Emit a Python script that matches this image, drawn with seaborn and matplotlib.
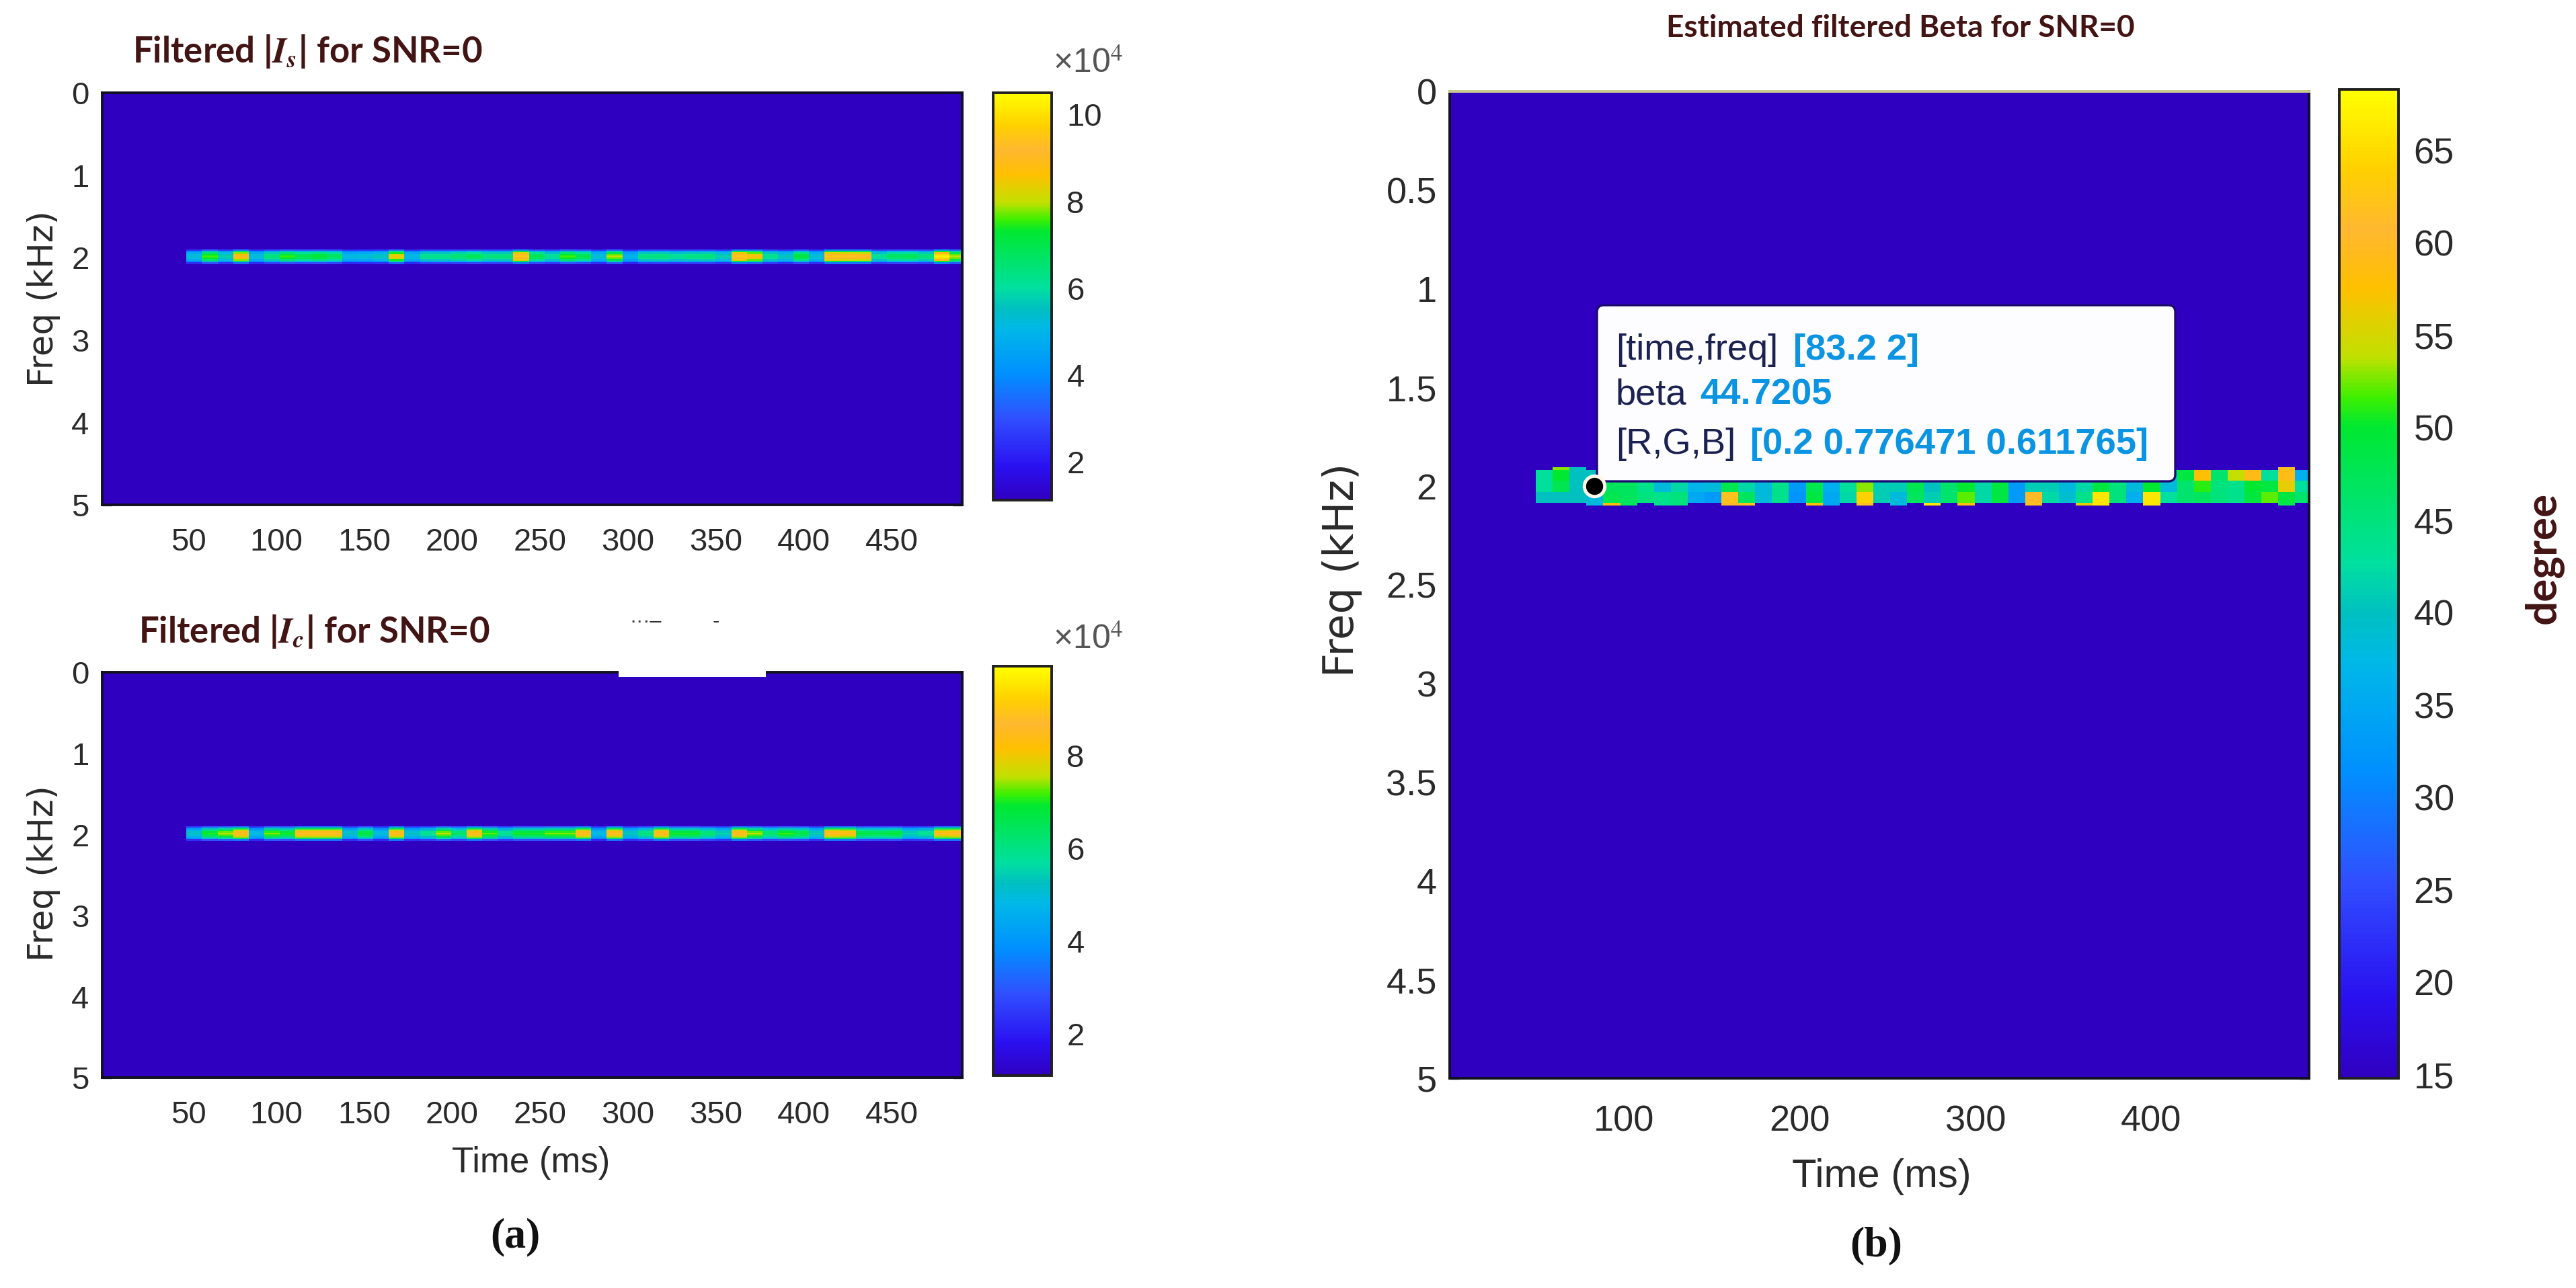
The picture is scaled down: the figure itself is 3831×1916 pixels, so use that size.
import math

import numpy as np
import seaborn as sns
from matplotlib import pyplot as plt
from matplotlib.colors import LinearSegmentedColormap
from matplotlib.patches import FancyBboxPatch, Rectangle
from matplotlib.transforms import IdentityTransform

W, H = 3831, 1916

# colour bar stops
cmap_stops = [0.0, 0.08, 0.2, 0.31, 0.42, 0.47, 0.52, 0.66, 0.69, 0.73, 0.80, 0.86, 0.92, 1.0]
cmap_colors = ['#3000c0', '#2a10f0', '#3050ff', '#0090ff', '#00b8e8', '#00c0c0', '#00e0a0',
               '#00e830', '#40f000', '#c0e000', '#ffc000', '#ffb830', '#ffd000', '#ffff00']

# |Is| peak per time column (x 1e4)
is_peaks = [5.3, 7.6, 5.8, 9.0, 5.3, 6.5, 7.5, 7.0, 7.3, 6.8,
            5.2, 5.3, 5.6, 8.5, 5.2, 6.3, 6.3, 6.6, 6.9, 6.5,
            6.5, 9.6, 7.0, 6.2, 7.6, 7.0, 5.4, 8.0, 5.0, 6.4,
            6.5, 6.2, 6.4, 6.5, 5.8, 9.6, 8.8, 6.3, 5.6, 7.2,
            5.4, 9.6, 9.4, 9.2, 6.2, 6.8, 6.9, 6.5, 10.3, 8.0]
# |Ic| peak per time column (x 1e4)
ic_peaks = [5.3, 7.0, 7.6, 8.8, 5.0, 7.4, 7.0, 8.8, 8.8, 8.8,
            5.3, 6.9, 5.0, 8.8, 5.3, 6.0, 7.6, 6.4, 8.8, 7.3,
            6.0, 7.0, 7.0, 7.4, 7.4, 8.8, 5.0, 8.8, 5.4, 6.2,
            8.8, 7.0, 7.0, 6.3, 5.6, 8.8, 7.6, 6.4, 7.2, 6.8,
            5.5, 8.8, 8.6, 6.8, 6.7, 6.9, 5.6, 6.0, 8.6, 8.8]
# how the band falls off around its centre
band_profile = [0.3, 0.68, 0.85, 0.95, 1.0, 0.95, 0.85, 0.68, 0.3]

# Beta, three frequency rows per time column (degree)
beta_top = [43, 50, 40, 40, 47, 47, 44, 38, 42, 37, 38, 48, 42, 38, 44, 33,
            48, 36, 43, 53, 41, 41, 48, 40, 46, 50, 42, 49, 33, 41, 41, 38,
            42, 49, 45, 38, 50, 38, 49, 58, 46, 54, 59, 43, 59, 36]
beta_mid = [43, 48, 40, 44, 47, 47, 44, 38, 42, 37, 38, 48, 42, 38, 44, 33,
            48, 36, 43, 53, 41, 41, 48, 40, 46, 50, 42, 49, 33, 41, 41, 38,
            42, 49, 45, 38, 50, 38, 46, 51, 45, 44, 50, 49, 56, 43]
beta_bot = [40, 40, 40, 38, 48, 47, 45, 44, 45, 35, 33, 62, 47, 38, 44, 32,
            49, 35, 42, 64, 41, 38, 47, 41, 46, 52, 42, 49, 33, 60, 42, 39,
            44, 66, 45, 36, 66, 43, 46, 47, 45, 44, 49, 52, 49, 46]
# small one-row steps above and below the band, 0 where there is none
beta_tip_top = [0, 53, 40, 0, 0, 0, 0, 0, 0, 0, 0, 0, 0, 0, 0, 0, 0, 0, 0, 0, 0, 0, 0,
                0, 0, 0, 0, 0, 0, 0, 0, 0, 0, 0, 0, 0, 0, 0, 0, 0, 0, 0, 0, 0, 62, 0]
beta_tip_bot = [0, 0, 0, 38, 58, 47, 0, 44, 45, 0, 0, 60, 62, 0, 0, 0, 58, 35, 0, 62, 0, 38, 0,
                66, 0, 58, 0, 0, 0, 62, 0, 0, 56, 66, 0, 0, 66, 0, 0, 0, 0, 0, 0, 0, 48, 0]

time_ticks_left = [50, 100, 150, 200, 250, 300, 350, 400, 450]
freq_ticks_left = [0, 1, 2, 3, 4, 5]
time_ticks_right = [100, 200, 300, 400]
freq_ticks_right = [0, 0.5, 1, 1.5, 2, 2.5, 3, 3.5, 4, 4.5, 5]
is_cbar_ticks = [2, 4, 6, 8, 10]
ic_cbar_ticks = [2, 4, 6, 8]
beta_cbar_ticks = [15, 20, 25, 30, 35, 40, 45, 50, 55, 60, 65]
is_range = (1.12, 10.5)
ic_range = (1.1, 9.93)
beta_range = (14.8, 68.3)
tip_time, tip_freq = 83.2, 2

DARK = '#2a2a2a'
TITLE = '#431414'
NAVY = '#1b2150'
BLUE = '#0a94e2'

sns.set_style('ticks')
plt.rcParams['font.family'] = ['Liberation Sans', 'DejaVu Sans']
plt.rcParams['mathtext.fontset'] = 'stix'

parula = LinearSegmentedColormap.from_list('parula_like', list(zip(cmap_stops, cmap_colors)), N=256)


def ax_box(left, top, right, bottom):
    return [left / W, 1 - bottom / H, (right - left) / W, (bottom - top) / H]


def label(x, y, s, **kw):
    kw.setdefault('ha', 'center')
    kw.setdefault('va', 'center')
    fig.text(x / W, 1 - y / H, s, **kw)


def left_grid(peaks, vmin, t_start, dt, df):
    n_pre = math.ceil((t_start - 1) / dt)
    grid = np.full((round(5 / df), n_pre + len(peaks)), vmin)
    first = round(2 / df) - 1 - len(band_profile) // 2
    for i, w in enumerate(band_profile):
        grid[first + i, n_pre:] = vmin + (np.array(peaks) - vmin) * w
    return grid, t_start - n_pre * dt


def right_grid(t_start, dt, df):
    n_pre = math.ceil((t_start - 1) / dt)
    vmin = beta_range[0]
    grid = np.full((round(5 / df), n_pre + len(beta_mid)), vmin)
    centre = round(2 / df)
    for i in range(4):
        grid[centre - 6 + i, n_pre:] = beta_top
        grid[centre - 2 + i, n_pre:] = beta_mid
        grid[centre + 2 + i, n_pre:] = beta_bot
    for c, v in enumerate(beta_tip_top):
        if v:
            grid[centre - 7, n_pre + c] = v
    for c, v in enumerate(beta_tip_bot):
        if v:
            grid[centre + 6, n_pre + c] = v
    return grid, t_start - n_pre * dt


def draw_panel(grid, t0, dt, df, vrange, pos, cpos, tticks, fticks, cticks, size, ylab=True):
    ax = fig.add_axes(ax_box(*pos))
    cax = fig.add_axes(ax_box(*cpos))
    sns.heatmap(grid, ax=ax, cbar_ax=cax, cmap=parula, vmin=vrange[0], vmax=vrange[1],
                xticklabels=False, yticklabels=False, cbar_kws={'ticks': cticks})
    x_of = lambda t: (t - t0) / dt
    ax.set_xlim(x_of(1), x_of(490))
    ax.set_ylim(5 / df, 0)
    ax.set_xticks([x_of(t) for t in tticks])
    ax.set_xticklabels([str(t) for t in tticks], fontsize=size, color=DARK)
    ax.set_yticks([f / df for f in fticks])
    ax.set_yticklabels(['%g' % f for f in fticks], fontsize=size, color=DARK)
    ax.tick_params(axis='x', direction='in', length=5, width=1.2, top=True, bottom=True, pad=size * 0.72)
    ax.tick_params(axis='y', direction='in', length=5, width=1.2, left=True, right=True, pad=7)
    for s in ax.spines.values():
        s.set_visible(True)
        s.set_linewidth(1.4)
        s.set_color('#101020')
    cb = ax.collections[0].colorbar
    cb.outline.set_visible(True)
    cb.outline.set_linewidth(1.4)
    cb.outline.set_edgecolor('#202020')
    cax.tick_params(direction='in', length=6, width=1.2, labelsize=size, labelcolor=DARK, pad=8, right=True)
    return ax, x_of


fig = plt.figure(figsize=((W + 0.5) / 200, (H + 0.5) / 200), dpi=200, facecolor='white')

# (a) the two filtered magnitude panels
DF_LEFT = 0.02
grid_is, t0_is = left_grid(is_peaks, is_range[0], 48.9, 8.85, DF_LEFT)
draw_panel(grid_is, t0_is, 8.85, DF_LEFT, is_range, (152, 138, 1431, 751), (1477, 138, 1564, 744),
           time_ticks_left, freq_ticks_left, is_cbar_ticks, 17)
grid_ic, t0_ic = left_grid(ic_peaks, ic_range[0], 48.9, 8.85, DF_LEFT)
ax_ic, _ = draw_panel(grid_ic, t0_ic, 8.85, DF_LEFT, ic_range, (152, 1000, 1431, 1603), (1477, 991, 1564, 1600),
                      time_ticks_left, freq_ticks_left, ic_cbar_ticks, 17)

# white patch sitting over the top of the lower panel
ax_ic.add_patch(Rectangle((920, H - 1007), 219, 86, transform=IdentityTransform(), facecolor='white',
                          edgecolor='none', clip_on=False, zorder=5))
label(960, 925, '\u00b7\u00b7\u00b7\u2013', fontsize=11, color='#333333', zorder=6)
label(1065, 925, '-', fontsize=11, color='#333333', zorder=6)

label(197, 76, 'Filtered |$\\mathbfit{I_s}$| for SNR=0', family='Lato', fontsize=19, weight='bold',
      color=TITLE, ha='left')
label(206, 939, 'Filtered |$\\mathbfit{I_c}$| for SNR=0', family='Lato', fontsize=19, weight='bold',
      color=TITLE, ha='left')
label(1618, 95, '\u00d710$^{4}$', fontsize=18, color='#555555')
label(1618, 952, '\u00d710$^{4}$', fontsize=18, color='#555555')
label(65, 444, 'Freq (kHz)', family='DejaVu Sans', fontsize=18.5, rotation=90, color=DARK)
label(65, 1299, 'Freq (kHz)', family='DejaVu Sans', fontsize=18.5, rotation=90, color=DARK)
label(790, 1730, 'Time (ms)', fontsize=19, color=DARK)
label(766, 1840, '(a)', family='Liberation Serif', fontsize=23, weight='bold', color='#111111')

# (b) estimated beta panel
DF_RIGHT = 0.014
grid_b, t0_b = right_grid(49.9, 9.6, DF_RIGHT)
ax_b, x_b = draw_panel(grid_b, t0_b, 9.6, DF_RIGHT, beta_range, (2156, 136, 3434, 1604), (3479, 133, 3567, 1604),
                       time_ticks_right, freq_ticks_right, beta_cbar_ticks, 19.5)
ax_b.spines['top'].set_color('#c8c890')

# data tip
ax_b.add_patch(FancyBboxPatch((2375, H - 716), 860, 262, boxstyle='round,pad=0,rounding_size=10',
                              transform=IdentityTransform(), facecolor='#fdfcff', edgecolor='#1c0a70',
                              linewidth=1.2, clip_on=False, zorder=6))
ax_b.scatter([x_b(tip_time)], [tip_freq / DF_RIGHT], s=120, c='black', edgecolors='#fff8e8', linewidths=1.8,
             zorder=7)
tip_lines = [(520, '[time,freq]', '[83.2 2]', 2667),
             (587, 'beta', '44.7205', 2528),
             (660, '[R,G,B]', '[0.2 0.776471 0.611765]', 2603)]
for y, name, value, vx in tip_lines:
    ax_b.text(2403, H - y, name, transform=IdentityTransform(), fontsize=19.6, color=NAVY, va='center', zorder=8)
    ax_b.text(vx, H - y, value, transform=IdentityTransform(), fontsize=19.6, color=BLUE, weight='bold',
              va='center', zorder=8)

label(2826, 42, 'Estimated filtered Beta for SNR=0', family='Lato', fontsize=16.5, weight='bold', color=TITLE)
label(1996, 848, 'Freq (kHz)', family='DejaVu Sans', fontsize=22.5, rotation=90, color=DARK)
label(2798, 1750, 'Time (ms)', fontsize=21.5, color=DARK)
label(2790, 1853, '(b)', family='Liberation Serif', fontsize=23, weight='bold', color='#111111')
label(3782, 830, 'degree', family='Lato', fontsize=23, weight='bold', rotation=90, color=TITLE)

fig.savefig('out.png', dpi=200, facecolor='white')
